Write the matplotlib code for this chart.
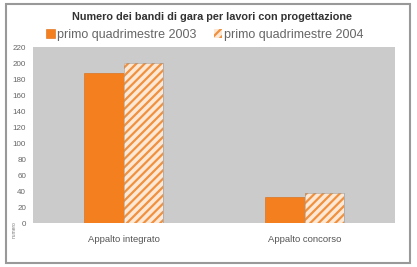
import matplotlib
matplotlib.use("Agg")
import matplotlib.pyplot as plt
from matplotlib.patches import Rectangle
import numpy as np

categories = ["Appalto integrato", "Appalto concorso"]
series_names = ["primo quadrimestre 2003", "primo quadrimestre 2004"]
values_2003 = [188, 33]
values_2004 = [200, 38]
yticks = [0, 20, 40, 60, 80, 100, 120, 140, 160, 180, 200, 220]

plt.rcParams['font.family'] = ['Liberation Sans', 'DejaVu Sans']
plt.rcParams['hatch.linewidth'] = 1.6

W, H = 417, 267
fig = plt.figure(figsize=(W / 100, H / 100), dpi=100)
fig.patch.set_facecolor("white")

ax = fig.add_axes([33 / W, 1 - 223 / H, (395 - 33) / W, (223 - 47) / H])
ax.set_facecolor("#cbcbcb")

x = np.arange(len(categories))
w = 0.22
orange = "#f47f1f"
b1 = ax.bar(x - w / 2, values_2003, w, color=orange, edgecolor="#d96a10", linewidth=0.4)
b2 = ax.bar(x + w / 2, values_2004, w, facecolor="#fde8d6", edgecolor="#f0913f",
            hatch="////", linewidth=0)
for r in b2:
    ax.add_patch(Rectangle(r.get_xy(), r.get_width(), r.get_height(), fill=False,
                           edgecolor="#9a9a9a", linewidth=0.4))

ax.set_xlim(-0.5, 1.5)
ax.set_ylim(0, 220)
ax.set_yticks(yticks)
ax.set_yticklabels([str(v) for v in yticks], fontsize=5.8, color="#666666")
ax.set_xticks(x)
ax.set_xticklabels(categories, fontsize=6.8, color="#555555")
ax.tick_params(axis="both", length=0)
ax.tick_params(axis="y", pad=5)
ax.tick_params(axis="x", pad=9)
for s in ax.spines.values():
    s.set_visible(False)

fig.text(14 / W, 1 - 230 / H, "numero", rotation=90, fontsize=3.5, color="#777777",
         ha="center", va="center")

fig.text(212 / W, 1 - 17 / H, "Numero dei bandi di gara per lavori con progettazione",
         fontsize=7.8, fontweight="bold", color="#333333", ha="center", va="center")

leg = fig.legend([b1[0], b2[0]], series_names, loc="center", ncol=2,
                 bbox_to_anchor=(205 / W, 1 - 35 / H), frameon=False,
                 fontsize=9, handlelength=0.7, handleheight=0.7,
                 handletextpad=0.15, columnspacing=1.4, borderpad=0)
for t in leg.get_texts():
    t.set_color("#666666")

frame = Rectangle((6 / W, 1 - 263 / H), (410 - 6) / W, (263 - 4) / H,
                  transform=fig.transFigure, fill=False, edgecolor="#999999",
                  linewidth=1.5)
fig.patches.append(frame)

fig.savefig("out.png", dpi=100)
